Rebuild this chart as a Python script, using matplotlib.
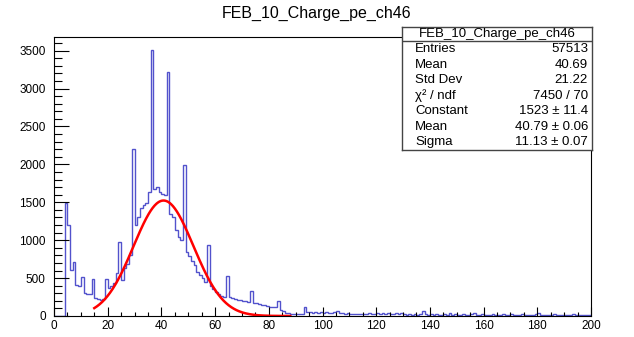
import numpy as np
import matplotlib
matplotlib.use("Agg")
import matplotlib.pyplot as plt
from matplotlib.ticker import MultipleLocator

plt.rcParams['font.family'] = ['Liberation Sans', 'DejaVu Sans']

# histogram: 200 bins of width 1 from 0 to 200
bin_edges = np.arange(0, 201, 1)
counts = [
    0, 0, 0, 0, 1490, 1200, 610, 710, 410, 400,            # 0-9
    510, 300, 290, 285, 490, 240, 225, 215, 225, 490,      # 10-19
    370, 390, 430, 570, 980, 480, 630, 680, 800, 2200,     # 20-29
    1200, 1310, 1420, 1460, 1490, 1640, 3510, 1680, 1700, 1630,  # 30-39
    1610, 1590, 3220, 1350, 1300, 1130, 1040, 1000, 1990, 850,   # 40-49
    790, 720, 675, 585, 540, 500, 455, 930, 390, 350,      # 50-59
    310, 290, 270, 250, 530, 250, 240, 230, 215, 205,      # 60-69
    200, 195, 185, 330, 175, 170, 160, 150, 140, 135,      # 70-79
    125, 120, 115, 200, 80, 60, 40, 35, 25, 20,            # 80-89
    20, 25, 20, 120, 55, 50, 45, 55, 40, 50,               # 90-99
    45, 55, 40, 35, 50, 70, 35, 40, 30, 35,                # 100-109
    30, 25, 30, 25, 20, 25, 20, 40, 20, 25,                # 110-119
    45, 20, 40, 20, 45, 20, 25, 40, 20, 40,                # 120-129
    20, 15, 20, 15, 20, 15, 20, 60, 20, 15,                # 130-139
    20, 15, 20, 15, 15, 20, 15, 35, 15, 20,                # 140-149
    15, 15, 20, 15, 15, 20, 40, 15, 15, 20,                # 150-159
    15, 15, 15, 20, 15, 15, 15, 20, 15, 15,                # 160-169
    30, 15, 15, 15, 20, 15, 15, 15, 15, 20,                # 170-179
    35, 15, 15, 15, 15, 15, 20, 15, 15, 15,                # 180-189
    15, 15, 15, 20, 15, 15, 15, 15, 15, 15,                # 190-199
]

# gaussian fit parameters from the stats box
fit_const = 1523
fit_mean = 40.79
fit_sigma = 11.13
fit_range = (15, 88)

hist_name = "FEB_10_Charge_pe_ch46"
stat_labels = ["Entries", "Mean", "Std Dev", "\u03c7\u00b2 / ndf", "Constant", "Mean", "Sigma"]
stat_values = ["57513", "40.69", "21.22", "7450 / 70",
               "1523 \u00b1 11.4", "40.79 \u00b1 0.06", "11.13 \u00b1 0.07"]

W, H = 634, 337
fig = plt.figure(figsize=(W / 100, H / 100), dpi=100)
ax = fig.add_axes([54 / W, 1 - 316 / H, (591 - 54) / W, (316 - 37) / H])

ax.stairs(counts, bin_edges, color='#5252cc', lw=1.0)

fx = np.linspace(fit_range[0], fit_range[1], 300)
fy = fit_const * np.exp(-0.5 * ((fx - fit_mean) / fit_sigma) ** 2)
ax.plot(fx, fy, color='#ff0000', lw=1.8)

ax.set_xlim(0, 200)
ax.set_ylim(0, 3680)
ax.xaxis.set_major_locator(MultipleLocator(20))
ax.xaxis.set_minor_locator(MultipleLocator(5))
ax.yaxis.set_major_locator(MultipleLocator(500))
ax.yaxis.set_minor_locator(MultipleLocator(100))
ax.tick_params(axis='x', which='major', direction='in', length=6.5, width=0.8, pad=3, labelsize=8.5)
ax.tick_params(axis='x', which='minor', direction='in', length=3, width=0.8)
ax.tick_params(axis='y', which='major', direction='in', length=11, width=0.8, pad=6, labelsize=8.5)
ax.tick_params(axis='y', which='minor', direction='in', length=5.5, width=0.8)
for s in ax.spines.values():
    s.set_linewidth(0.8)

fig.text(0.5, 1 - 13 / H, hist_name, ha='center', va='center', fontsize=11.5)

# stats box
bx0, bx1, by0, by1 = 402, 592, 27, 150
sax = fig.add_axes([bx0 / W, 1 - by1 / H, (bx1 - bx0) / W, (by1 - by0) / H])
sax.set_xlim(bx0, bx1)
sax.set_ylim(by1, by0)
sax.set_xticks([])
sax.set_yticks([])
sax.set_facecolor('white')
for s in sax.spines.values():
    s.set_linewidth(1.0)
    s.set_color('#444444')
sax.plot([bx0, bx1], [41, 41], color='#444444', lw=1.0)
sax.text((bx0 + bx1) / 2, 34, hist_name, ha='center', va='center', fontsize=9.5)
for i, (lab, val) in enumerate(zip(stat_labels, stat_values)):
    yy = 49 + i * 15.5
    sax.text(415, yy, lab, ha='left', va='center', fontsize=9.5)
    sax.text(588, yy, val, ha='right', va='center', fontsize=9.5)

fig.savefig("out.png", dpi=100)
